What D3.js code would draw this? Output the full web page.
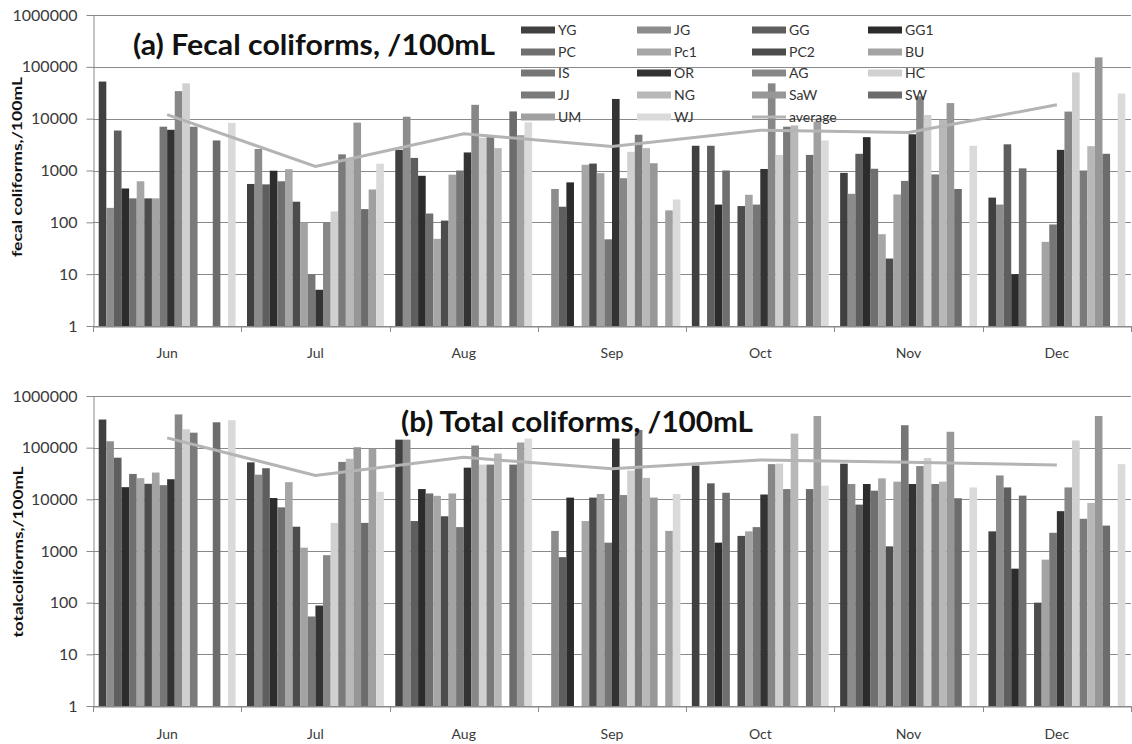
<!DOCTYPE html>
<html>
<head>
<meta charset="utf-8">
<script src="https://cdn.jsdelivr.net/npm/d3@7"></script>
<style>
  html, body { margin: 0; padding: 0; background: #fff; }
  svg { display: block; }
  text { font-family: Lato, "Open Sans", sans-serif; }
</style>
</head>
<body>
<svg id="chart" width="1132" height="744"></svg>
<script>
const months = ['Jun', 'Jul', 'Aug', 'Sep', 'Oct', 'Nov', 'Dec'];
const stations = ['YG', 'JG', 'GG', 'GG1', 'PC', 'Pc1', 'PC2', 'BU', 'IS', 'OR', 'AG', 'HC', 'JJ', 'NG', 'SaW', 'SW', 'UM', 'WJ'];
const stationColors = ['#404040', '#8c8c8c', '#5e5e5e', '#2c2c2c', '#6f6f6f', '#a6a6a6', '#4c4c4c', '#a3a3a3', '#767676',
  '#333333', '#878787', '#d0d0d0', '#7a7a7a', '#b8b8b8', '#979797', '#6c6c6c', '#a0a0a0', '#dadada'];
const yTicks = [1, 10, 100, 1000, 10000, 100000, 1000000];

// (a) fecal coliforms, /100mL — one array per station, Jun..Dec
const fecalYG  = [52000, 550, 2500, null, 3000, 900, 300];
const fecalJG  = [190, 2600, 10900, 440, null, 355, 220];
const fecalGG  = [5900, 540, 1750, 200, 3000, 2100, 3200];
const fecalGG1 = [450, 990, 790, 590, 220, 4400, 10];
const fecalPC  = [290, 620, 148, null, 1000, 1080, 1100];
const fecalPc1 = [620, 1060, 48, 1290, null, 59, null];
const fecalPC2 = [290, 250, 108, 1360, 206, 20, null];
const fecalBU  = [290, 100, 830, 890, 340, 345, 42];
const fecalIS  = [7000, 10, 1000, 47, 220, 630, 91];
const fecalOR  = [6100, 5, 2230, 24000, 1070, 5000, 2500];
const fecalAG  = [34000, 100, 18500, 710, 48000, 27000, 13700];
const fecalHC  = [48000, 162, 4300, 2300, 2000, 11800, 78000];
const fecalJJ  = [7000, 2050, 4400, 4900, 7000, 840, 1000];
const fecalNG  = [null, 1750, 2700, 2700, 7400, 9500, 2950];
const fecalSaW = [null, 8400, null, 1380, null, 20000, 152000];
const fecalSW  = [3800, 180, 13800, null, 2000, 440, 2100];
const fecalUM  = [null, 430, 4800, 170, 8800, null, null];
const fecalWJ  = [8300, 1350, 8500, 276, 3800, 3000, 30500];
const fecalAvg = [12000, 1200, 5100, 2900, 6000, 5400, 18500];

// (b) total coliforms, /100mL
const totalYG  = [350000, 52000, 143000, null, 45000, 49000, 2400];
const totalJG  = [133000, 30000, 143000, 2450, null, 19800, 29000];
const totalGG  = [64000, 40000, 3800, 760, 20400, 7900, 17000];
const totalGG1 = [17200, 10600, 15800, 10800, 1450, 19800, 455];
const totalPC  = [31000, 7000, 13000, null, 13400, 14700, 11800];
const totalPc1 = [25700, 21500, 11700, 3800, null, 25500, null];
const totalPC2 = [20000, 2950, 4700, 10800, 1960, 1230, 100];
const totalBU  = [33000, 1160, 13000, 12700, 2400, 22000, 680];
const totalIS  = [18800, 54, 2900, 1450, 2900, 272000, 2250];
const totalOR  = [24500, 88, 41000, 150000, 12400, 19800, 5900];
const totalAG  = [440000, 830, 110000, 12100, 48000, 44000, 17000];
const totalHC  = [227000, 3500, 47000, 36000, 49000, 63000, 138000];
const totalJJ  = [195000, 53000, 47000, 220000, 15800, 19800, 4200];
const totalNG  = [null, 61000, 77000, 26000, 187000, 22000, 8500];
const totalSaW = [null, 102000, null, 10800, null, 203000, 410000];
const totalSW  = [310000, 3500, 47000, null, 15800, 10500, 3100];
const totalUM  = [null, 95000, 126000, 2450, 410000, null, null];
const totalWJ  = [340000, 14000, 150000, 12700, 18400, 17000, 48000];
const totalAvg = [155000, 29000, 65000, 39000, 58000, 52000, 46000];

const fecalSeries = [fecalYG, fecalJG, fecalGG, fecalGG1, fecalPC, fecalPc1, fecalPC2, fecalBU, fecalIS,
  fecalOR, fecalAG, fecalHC, fecalJJ, fecalNG, fecalSaW, fecalSW, fecalUM, fecalWJ];
const totalSeries = [totalYG, totalJG, totalGG, totalGG1, totalPC, totalPc1, totalPC2, totalBU, totalIS,
  totalOR, totalAG, totalHC, totalJJ, totalNG, totalSaW, totalSW, totalUM, totalWJ];

const svg = d3.select('#chart');
const left = 93, right = 1131;
const gridColor = '#8a8a8a';
const avgColor = '#b4b4b4';

const x0 = d3.scaleBand().domain(months).range([left, right]).padding(0);
const x1 = d3.scaleBand().domain(stations).range([0, x0.bandwidth()]).paddingInner(0).paddingOuter(0.75);

function drawPanel(p) {
  const y = d3.scaleLog().domain([1, 1e6]).range([p.bottom, p.top]);
  const g = svg.append('g');

  // gridlines
  g.append('g').selectAll('line').data(yTicks).join('line')
    .attr('x1', left).attr('x2', right)
    .attr('y1', d => Math.round(y(d)) + 0.5).attr('y2', d => Math.round(y(d)) + 0.5)
    .attr('stroke', gridColor).attr('stroke-width', 1);

  // bars
  const cells = [];
  p.series.forEach((vals, si) => vals.forEach((v, mi) => {
    if (v != null) cells.push({ station: stations[si], month: months[mi], value: v, color: stationColors[si] });
  }));
  g.append('g').selectAll('rect').data(cells).join('rect')
    .attr('x', d => x0(d.month) + x1(d.station))
    .attr('width', x1.bandwidth())
    .attr('y', d => y(d.value))
    .attr('height', d => y(1) - y(d.value))
    .attr('fill', d => d.color);

  // average line
  const line = d3.line()
    .x((d, i) => x0(months[i]) + x0.bandwidth() / 2)
    .y(d => y(d));
  g.append('path').datum(p.avg)
    .attr('d', line).attr('fill', 'none')
    .attr('stroke', avgColor).attr('stroke-width', 3);

  // y axis
  const yAxis = g.append('g').attr('transform', `translate(${left + 0.5},0)`)
    .call(d3.axisLeft(y).tickValues(yTicks).tickFormat(d3.format('d')).tickSize(7).tickSizeOuter(0).tickPadding(9));
  yAxis.selectAll('path, line').attr('stroke', gridColor);
  yAxis.selectAll('text').attr('font-size', 16).attr('fill', '#3a3a3a')
    .attr('font-family', 'Lato, "Open Sans", sans-serif');

  // x axis (month labels) + boundary ticks
  const xAxis = g.append('g').attr('transform', `translate(0,${Math.round(p.bottom) + 0.5})`)
    .call(d3.axisBottom(x0).tickSize(0).tickPadding(p.labelPad));
  xAxis.select('.domain').attr('stroke', gridColor);
  xAxis.selectAll('text').attr('font-size', 14).attr('fill', '#3a3a3a')
    .attr('font-family', 'Lato, "Open Sans", sans-serif');
  const bounds = months.map(m => x0(m)).concat([x0.range()[1]]);
  g.append('g').selectAll('line').data(bounds).join('line')
    .attr('x1', d => Math.round(d) + 0.5).attr('x2', d => Math.round(d) + 0.5)
    .attr('y1', p.bottom).attr('y2', p.bottom + 6)
    .attr('stroke', gridColor);

  // panel title
  g.append('text')
    .attr('x', p.titleX).attr('y', p.titleY)
    .attr('font-size', 28).attr('font-weight', 'bold').attr('fill', '#111')
    .attr('textLength', p.titleLen).attr('lengthAdjust', 'spacingAndGlyphs')
    .text(p.title);

  // y axis title
  g.append('text')
    .attr('transform', `translate(${p.ylabX},${p.ylabY}) rotate(-90)`)
    .attr('text-anchor', 'middle')
    .attr('font-size', 13).attr('font-weight', 'bold').attr('fill', '#111')
    .attr('textLength', p.ylabLen).attr('lengthAdjust', 'spacingAndGlyphs')
    .text(p.ylabel);

  return g;
}

const panelA = drawPanel({
  top: 15, bottom: 326, series: fecalSeries, avg: fecalAvg, labelPad: 22,
  title: '(a) Fecal coliforms, /100mL', titleX: 133, titleY: 55, titleLen: 362,
  ylabel: 'fecal coliforms,/100mL', ylabX: 22, ylabY: 167, ylabLen: 180
});

drawPanel({
  top: 396, bottom: 706, series: totalSeries, avg: totalAvg, labelPad: 23,
  title: '(b) Total coliforms, /100mL', titleX: 401, titleY: 432, titleLen: 352,
  ylabel: 'totalcoliforms,/100mL', ylabX: 23, ylabY: 552, ylabLen: 171
});

// legend (panel a only)
const legendCols = [521, 637, 752, 868];
const legendRows = [30, 52, 73, 95, 117];
const legendItems = stations.map((s, i) => ({ name: s, color: stationColors[i], type: 'bar' }))
  .concat([{ name: 'average', color: avgColor, type: 'line' }]);
const leg = panelA.append('g').selectAll('g').data(legendItems).join('g')
  .attr('transform', (d, i) => `translate(${legendCols[i % 4]},${legendRows[Math.floor(i / 4)]})`);
leg.filter(d => d.type === 'bar').append('rect')
  .attr('x', 0).attr('y', -3.5).attr('width', 34).attr('height', 7).attr('fill', d => d.color);
leg.filter(d => d.type === 'line').append('line')
  .attr('x1', 0).attr('x2', 34).attr('y1', 0).attr('y2', 0)
  .attr('stroke', d => d.color).attr('stroke-width', 3);
leg.append('text')
  .attr('x', 37).attr('dy', '0.36em')
  .attr('font-size', 14).attr('fill', '#333')
  .text(d => d.name);
</script>
</body>
</html>
